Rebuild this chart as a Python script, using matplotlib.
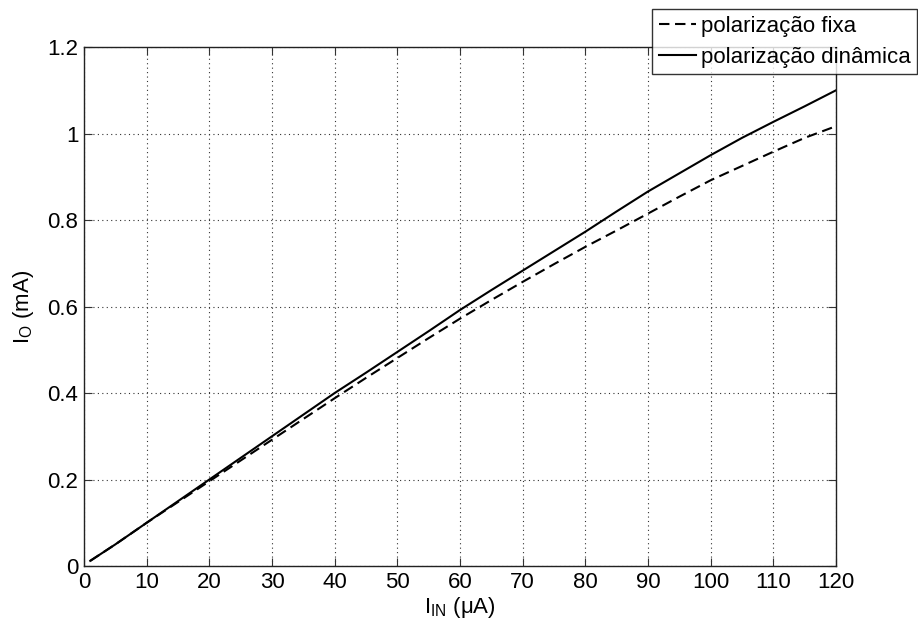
import matplotlib
matplotlib.use('Agg')
import matplotlib.pyplot as plt

# Data (I_IN in uA, I_O in mA)
i_in = [1, 5, 10, 15, 20, 25, 30, 35, 40, 45, 50, 55, 60,
        65, 70, 75, 80, 85, 90, 95, 100, 105, 110, 115, 120]
io_fixa = [0.012, 0.05, 0.1, 0.148, 0.196, 0.244, 0.292, 0.34, 0.388, 0.435,
           0.481, 0.527, 0.572, 0.615, 0.657, 0.698, 0.738, 0.776, 0.815,
           0.854, 0.892, 0.925, 0.958, 0.99, 1.017]
io_dinamica = [0.012, 0.05, 0.1, 0.15, 0.2, 0.25, 0.3, 0.35, 0.4, 0.447,
               0.495, 0.543, 0.592, 0.638, 0.683, 0.728, 0.773, 0.82, 0.866,
               0.908, 0.95, 0.99, 1.027, 1.063, 1.1]

x_ticks = [0, 10, 20, 30, 40, 50, 60, 70, 80, 90, 100, 110, 120]
y_ticks = [0, 0.2, 0.4, 0.6, 0.8, 1.0, 1.2]
y_tick_labels = ['0', '0.2', '0.4', '0.6', '0.8', '1', '1.2']

plt.rcParams['font.family'] = ['Liberation Sans', 'DejaVu Sans']
font_size = 16

fig = plt.figure(figsize=(9.18, 6.28), dpi=100)
ax = fig.add_axes([0.0915, 0.0987, 0.8192, 0.8264])

ax.plot(i_in, io_fixa, color='black', linestyle=(0, (5, 2.7)), linewidth=1.5,
        label='polarização fixa')
ax.plot(i_in, io_dinamica, color='black', linestyle='-', linewidth=1.5,
        label='polarização dinâmica')

ax.set_xlim(0, 120)
ax.set_ylim(0, 1.2)
ax.set_xticks(x_ticks)
ax.set_yticks(y_ticks)
ax.set_yticklabels(y_tick_labels)
ax.grid(True, linestyle=(0, (1, 3)), color='#333333', linewidth=0.8)
ax.tick_params(direction='in', top=True, right=True, length=6,
               labelsize=font_size, color='#333333', pad=4)
for sp in ax.spines.values():
    sp.set_color('#222222')
    sp.set_linewidth(1.0)

ax.set_xlabel(r'I$_{\mathregular{IN}}$ ($\mathregular{\mu}$A)', fontsize=font_size, labelpad=2)
ax.set_ylabel(r'I$_{\mathregular{O}}$ (mA)', fontsize=font_size, labelpad=8)

leg = fig.legend(loc='upper left', bbox_to_anchor=(652 / 918, 1 - 9 / 628),
                 fontsize=font_size, frameon=True, fancybox=False,
                 handlelength=1.67, handletextpad=0.22, borderpad=0.3,
                 labelspacing=0.45, borderaxespad=0)
leg.get_frame().set_edgecolor('black')
leg.get_frame().set_linewidth(1.0)

fig.savefig('out.png', dpi=100)
